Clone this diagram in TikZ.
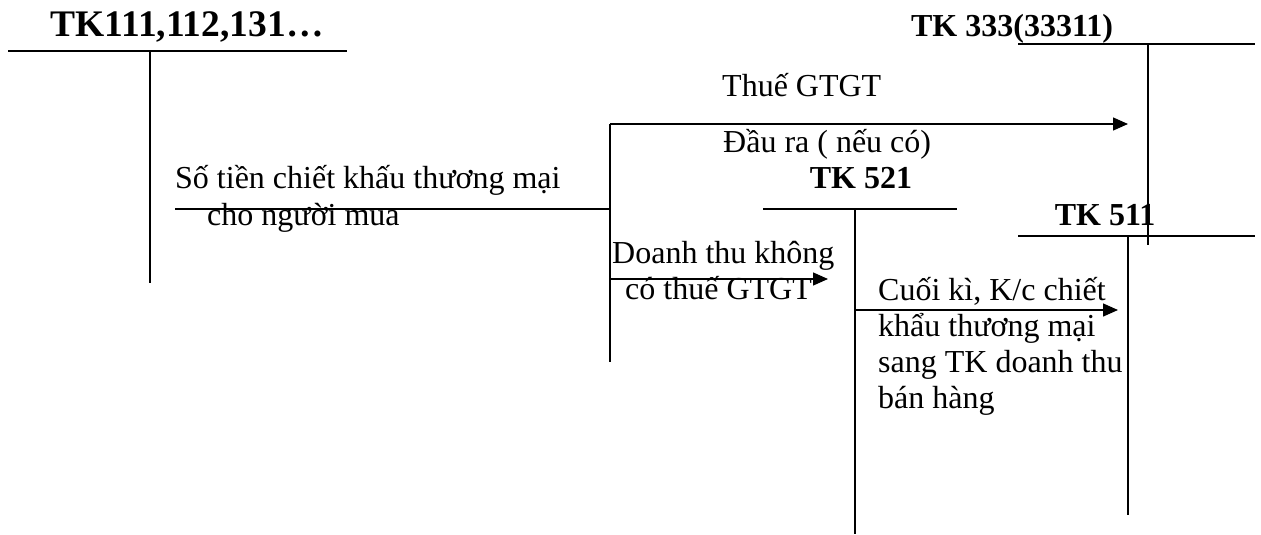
\documentclass[tikz,border=0pt]{standalone}
\usepackage{fontspec}
\setmainfont{Liberation Serif}
\usetikzlibrary{arrows.meta}
\begin{document}
\begin{tikzpicture}[x=1pt,y=-1pt,
  acct/.style={line width=1.4pt},
  flow/.style={line width=1.4pt},
  arr/.style={flow,-{Triangle[length=15pt,width=13pt]}},
  lbl/.style={anchor=base west,inner sep=0pt,font=\fontsize{32}{38}\selectfont},
  ttl/.style={anchor=base,inner sep=0pt,font=\fontsize{32}{38}\selectfont\bfseries},
  bigttl/.style={anchor=base,inner sep=0pt,font=\fontsize{37.5}{44}\selectfont\bfseries}]
\useasboundingbox (0,0) rectangle (1261,535);

% T-account TK111,112,131
\node[bigttl] (t111) at (187,37) {TK111,112,131…};
\coordinate (a1L) at (8,51);   \coordinate (a1R) at (347,51);
\coordinate (a1T) at (150,51); \coordinate (a1B) at (150,283);
\draw[acct] (a1L) -- (a1R);
\draw[acct] (a1T) -- (a1B);

% T-account TK 333(33311)
\node[ttl] (t333) at (1012,37) {TK 333(33311)};
\coordinate (a3L) at (1018,44);  \coordinate (a3R) at (1255,44);
\coordinate (a3T) at (1148,44);  \coordinate (a3B) at (1148,245);
\draw[acct] (a3L) -- (a3R);
\draw[acct] (a3T) -- (a3B);

% T-account TK 521
\node[ttl] (t521) at (861,188) {TK 521};
\coordinate (a5L) at (763,209);  \coordinate (a5R) at (957,209);
\coordinate (a5T) at (855,209);  \coordinate (a5B) at (855,534);
\draw[acct] (a5L) -- (a5R);
\draw[acct] (a5T) -- (a5B);

% T-account TK 511
\node[ttl] (t511) at (1105,225) {TK 511};
\coordinate (a6L) at (1018,236); \coordinate (a6R) at (1255,236);
\coordinate (a6T) at (1128,236); \coordinate (a6B) at (1128,515);
\draw[acct] (a6L) -- (a6R);
\draw[acct] (a6T) -- (a6B);

% discount paid to the buyer, split into VAT and net revenue
\coordinate (s0) at (175,209);
\coordinate (j0) at (610,209);
\coordinate (jT) at (610,124);
\coordinate (jB) at (610,362);
\coordinate (jM) at (610,279);
\coordinate (vatEnd) at (1128,124);
\coordinate (netEnd) at (828,279);
\draw[flow] (s0) -- (j0);
\draw[flow] (jT) -- (jB);
\draw[arr] (jT) -- (vatEnd);
\draw[arr] (jM) -- (netEnd);

% closing transfer TK 521 -> TK 511
\coordinate (k0) at (855,310);
\coordinate (kEnd) at (1118,310);
\draw[arr] (k0) -- (kEnd);

% labels
\node[lbl] (l1) at (175,188) {Số tiền chiết khấu thương mại};
\node[lbl] (l2) at (207,225) {cho người mua};
\node[lbl] (l3) at (722,96) {Thuế GTGT};
\node[lbl] (l4) at (723,152) {Đầu ra ( nếu có)};
\node[lbl] (l5) at (612,263) {Doanh thu không};
\node[lbl] (l6) at (625,299) {có thuế GTGT};
\node[lbl] (l7) at (878,300) {Cuối kì, K/c chiết};
\node[lbl] (l8) at (878,336) {khẩu thương mại};
\node[lbl] (l9) at (878,372) {sang TK doanh thu};
\node[lbl] (l10) at (878,408) {bán hàng};
\end{tikzpicture}
\end{document}
